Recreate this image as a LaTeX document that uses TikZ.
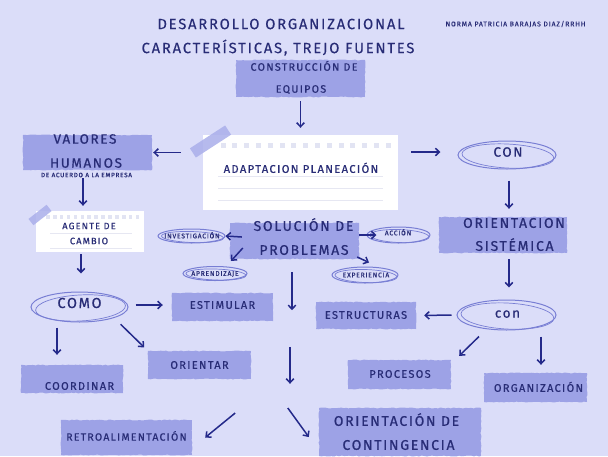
\documentclass[tikz,border=0pt]{standalone}
\usepackage{fontspec}
\setmainfont{Fira Sans}
\newfontfamily\hand{Fira Sans}[LetterSpace=12, FakeBold=0.6]
\newfontfamily\handlight{Fira Sans}[LetterSpace=12, FakeBold=0.2]
\usetikzlibrary{arrows.meta,shapes.geometric,calc,decorations.pathmorphing}
\definecolor{bg}{RGB}{219,221,249}
\definecolor{tapec}{RGB}{157,162,230}
\definecolor{ink}{RGB}{40,44,118}
\definecolor{arrc}{RGB}{36,41,138}
\definecolor{ringc}{RGB}{120,126,212}
\definecolor{sqc}{RGB}{226,228,243}
\definecolor{linec}{RGB}{230,231,242}
\definecolor{notetapec}{RGB}{170,175,234}
\tikzset{
  tapebox/.style={fill=tapec, inner sep=0pt, draw=none, decorate,
    decoration={random steps, segment length=2.5pt, amplitude=0.5pt}},
  notebox/.style={fill=white, inner sep=0pt, draw=none},
  ring/.style={ellipse, draw=ringc, line width=1pt, inner sep=0pt},
  ringtwo/.style={draw=ringc, line width=0.7pt},
  notetape/.style={fill=notetapec, inner sep=0pt, draw=none},
  txt/.style={text=ink, inner sep=0pt, align=center,
    font=\hand\fontsize{#1}{#1}\selectfont,
    text height=\dimexpr #1pt*69/100\relax, text depth=0pt},
  ttl/.style={text=ink, inner sep=0pt, align=center,
    font=\handlight\fontsize{#1}{#1}\selectfont,
    text height=\dimexpr #1pt*69/100\relax, text depth=0pt},
  arr/.style={draw=arrc, line width=1.5pt, -{Straight Barb[length=4pt,width=7.5pt]}},
}
\begin{document}
\begin{tikzpicture}[x=1pt,y=-1pt]
\useasboundingbox (0,0) rectangle (608,456);
\fill[bg] (0,0) rectangle (608,456);

% titles
\node[ttl=14.8] (t1) at (281,24) {DESARROLLO ORGANIZACIONAL};
\node[ttl=14.8] (t2) at (278,48) {CARACTERÍSTICAS, TREJO FUENTES};
\node[ttl=6.9] (author) at (515.5,24) {NORMA PATRICIA BARAJAS DIAZ/RRHH};

% construccion de equipos
\node[tapebox, minimum width=129pt, minimum height=37pt] (cons) at (300.5,78.5) {};
\node[txt=10.7] (consA) at (304,67) {CONSTRUCCIÓN DE};
\node[txt=10.7] (consB) at (301,89) {EQUIPOS};

% adaptacion note
\node[notebox, minimum width=195pt, minimum height=75pt] (adapt) at (300.5,172.5) {};
\foreach \i in {0,...,14} \fill[sqc] (220.5+\i*11.8,142.5) rectangle ++(5,5);
\foreach \yy in {176,188,200} \draw[linec, line width=0.8pt] (218,\yy) -- (383,\yy);
\node[notetape, minimum width=42pt, minimum height=11pt, rotate=33, opacity=0.85] (adaptTape) at (210.5,141.5) {};
\node[txt=11.2] (adaptT) at (301,169) {ADAPTACION PLANEACIÓN};

% valores humanos
\node[tapebox, minimum width=129pt, minimum height=35pt] (valores) at (87.5,152.5) {};
\node[txt=13.5] (valA) at (85,139) {VALORES};
\node[txt=13.5] (valB) at (86,163) {HUMANOS};
\node[txt=6.3] (acuerdo) at (86.5,175) {DE ACUERDO A LA EMPRESA};

% agente de cambio note
\node[notebox, minimum width=108pt, minimum height=41pt] (agent) at (90,231.5) {};
\foreach \i in {0,...,13} \fill[sqc] (46+\i*6.9,215) rectangle ++(3.6,3.6);
\foreach \yy in {233,248} \draw[linec, line width=0.7pt] (50,\yy) -- (132,\yy);
\node[notetape, minimum width=23pt, minimum height=8pt, rotate=38, opacity=0.85] (agentTape) at (40,215) {};
\node[txt=9.3] (agA) at (89,226) {AGENTE DE};
\node[txt=9.3] (agB) at (89,241) {CAMBIO};

% como
\node[ring, minimum width=97pt, minimum height=30pt] (como) at (79.5,307) {};
\draw[ringtwo, rotate around={3:(como.center)}] ([xshift=1pt,yshift=-1pt]como.center) ellipse [x radius=45, y radius=13];
\node[txt=14.5] (comoT) at (79.5,303) {COMO};

% como branches
\node[tapebox, minimum width=101pt, minimum height=28pt] (estimular) at (222.5,307) {};
\node[txt=11] (estT) at (222.5,305) {ESTIMULAR};
\node[tapebox, minimum width=102pt, minimum height=28pt] (coordinar) at (72,379) {};
\node[txt=11] (coordT) at (79.5,386) {COORDINAR};
\node[tapebox, minimum width=103pt, minimum height=28pt] (orientar) at (199.5,365) {};
\node[txt=11] (orT) at (199.5,365) {ORIENTAR};

% solucion de problemas
\node[tapebox, minimum width=129pt, minimum height=36pt] (solucion) at (294.5,241) {};
\node[txt=14] (solA) at (303.5,226) {SOLUCIÓN DE};
\node[txt=14] (solB) at (304,250) {PROBLEMAS};

\node[ring, minimum width=67pt, minimum height=14pt] (investig) at (191.5,236) {};
\draw[ringtwo, rotate around={-2:(investig.center)}] ([xshift=1pt,yshift=-1pt]investig.center) ellipse [x radius=31, y radius=5.5];
\node[txt=6.7] (invT) at (192,236) {INVESTIGACIÓN};
\node[ring, minimum width=64pt, minimum height=14pt] (aprend) at (215,273.5) {};
\draw[ringtwo, rotate around={-2:(aprend.center)}] ([xshift=1pt,yshift=-1pt]aprend.center) ellipse [x radius=30, y radius=5.5];
\node[txt=6.7] (aprT) at (215,273.5) {APRENDIZAJE};
\node[ring, minimum width=63pt, minimum height=16pt] (accion) at (398.5,235) {};
\draw[ringtwo, rotate around={-2:(accion.center)}] ([xshift=1pt,yshift=-1pt]accion.center) ellipse [x radius=29.5, y radius=6.5];
\node[txt=6.7] (accT) at (398,233) {ACCIÓN};
\node[ring, minimum width=66pt, minimum height=16pt] (exper) at (365,275) {};
\draw[ringtwo, rotate around={-2:(exper.center)}] ([xshift=1pt,yshift=-1pt]exper.center) ellipse [x radius=31, y radius=6.5];
\node[txt=6.7] (expT) at (366,275) {EXPERIENCIA};

% right column
\node[ring, minimum width=98pt, minimum height=28pt] (con1) at (507,155) {};
\draw[ringtwo, rotate around={-3:(con1.center)}] ([xshift=1pt,yshift=-1pt]con1.center) ellipse [x radius=46, y radius=12];
\node[txt=13.5] (con1T) at (508,152) {CON};
\node[tapebox, minimum width=128pt, minimum height=36pt] (orientS) at (503,235) {};
\node[txt=14] (osA) at (514,223) {ORIENTACION};
\node[txt=14] (osB) at (514.5,246) {SISTÉMICA};
\node[ring, minimum width=99pt, minimum height=30pt] (con2) at (506.5,315) {};
\draw[ringtwo, rotate around={-3:(con2.center)}] ([xshift=1pt,yshift=-1pt]con2.center) ellipse [x radius=46.5, y radius=13];
\node[txt=13.5] (con2T) at (507.5,313) {con};
\node[tapebox, minimum width=100pt, minimum height=27pt] (estructuras) at (366,315.5) {};
\node[txt=11] (estrT) at (366,315) {ESTRUCTURAS};
\node[tapebox, minimum width=103pt, minimum height=29pt] (procesos) at (399.5,374.5) {};
\node[txt=11] (procT) at (400,374) {PROCESOS};
\node[tapebox, minimum width=103pt, minimum height=29pt] (organizacion) at (535.5,387.5) {};
\node[txt=11] (orgT) at (538.5,388) {ORGANIZACIÓN};

% bottom
\node[tapebox, minimum width=131pt, minimum height=35pt] (retro) at (126.5,437.5) {};
\node[txt=10.5] (retT) at (126.5,437) {RETROALIMENTACIÓN};
\node[tapebox, minimum width=162pt, minimum height=48pt] (conting) at (400,432) {};
\node[txt=14] (coA) at (396.5,421) {ORIENTACIÓN DE};
\node[txt=14] (coB) at (398.5,445) {CONTINGENCIA};

% arrows
\draw[arr, shorten <=4pt, shorten >=7pt] (cons.south) -- (adapt.north);
\draw[arr, shorten <=22pt, shorten >=1pt] (valores.east -| adapt.west) -- (valores.east);
\draw[arr, shorten <=13pt, shorten >=17pt] ([yshift=3pt]adapt.east |- con1.west) -- ([yshift=3pt]con1.west);
\draw[arr] ([xshift=-4.5pt,yshift=-8pt]valores.south) -- ([xshift=-7pt,yshift=5pt]agent.north);
\draw[arr] ([xshift=-9pt,yshift=-2pt]agent.south) -- ([xshift=1.5pt,yshift=18pt]como.north);
\draw[arr, shorten <=7pt, shorten >=9pt] ([yshift=2pt]como.east) -- ([yshift=2pt]estimular.west);
\draw[arr] ([xshift=-22.5pt,yshift=-5pt]como.south) -- ([xshift=-15pt,yshift=10pt]coordinar.north);
\draw[arr, shorten <=9pt, shorten >=5pt] (como.south east) -- (orientar.north west);
\draw[arr] ([xshift=12pt,yshift=4pt]solucion.west) -- (investig.east);
\draw[arr] ([xshift=13pt,yshift=-7pt]solucion.west) -- ([xshift=16pt,yshift=12.5pt]aprend.center);
\draw[arr] ([yshift=6pt]solucion.east) -- ([xshift=10pt]accion.west);
\draw[arr] ([xshift=-2pt,yshift=-16pt]solucion.east) -- ([xshift=4pt,yshift=4pt]exper.north);
\draw[arr] ([xshift=-2.5pt,yshift=-13pt]solucion.south) -- ([xshift=-2.5pt,yshift=-51pt]solucion.south);
\draw[arr] ([xshift=-110pt,yshift=61pt]conting.north) -- ([xshift=-110pt,yshift=24pt]conting.north);
\draw[arr] ([xshift=43pt,yshift=24.5pt]retro.east) -- ([xshift=13pt]retro.east);
\draw[arr] ([xshift=-31pt,yshift=24pt]conting.west) -- ([xshift=-10pt,yshift=-5pt]conting.west);
\draw[arr] ([xshift=2pt,yshift=-11pt]con1.south) -- ([xshift=6pt,yshift=8pt]orientS.north);
\draw[arr] ([xshift=6pt,yshift=-6pt]orientS.south) -- ([xshift=2.5pt,yshift=12pt]con2.north);
\draw[arr, shorten <=5pt, shorten >=8pt] (con2.west) -- (estructuras.east);
\draw[arr] ([xshift=-27.5pt,yshift=-6pt]con2.south) -- ([xshift=8pt,yshift=4pt]procesos.north east);
\draw[arr] ([xshift=34.5pt,yshift=-6pt]con2.south) -- ([xshift=5.5pt,yshift=8pt]organizacion.north);
\end{tikzpicture}
\end{document}
